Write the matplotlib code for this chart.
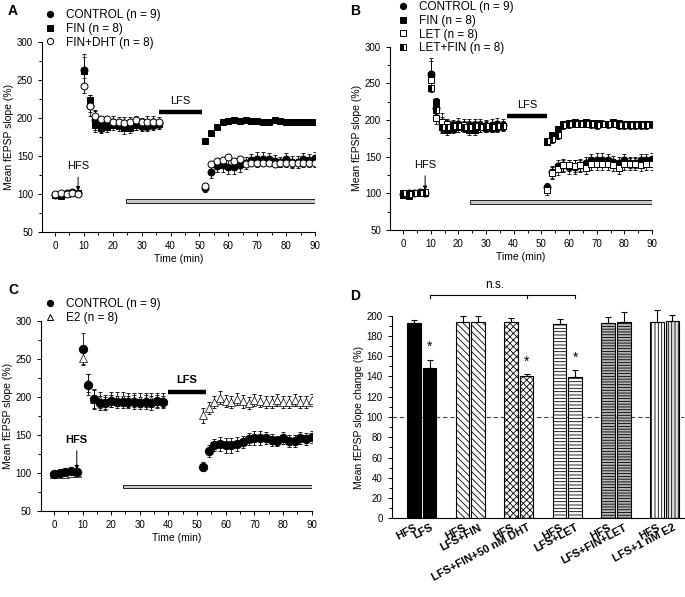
import numpy as np
import matplotlib
matplotlib.use("Agg")
import matplotlib.pyplot as plt
import matplotlib.transforms as mtransforms
from matplotlib.patches import Rectangle
from matplotlib.lines import Line2D
from matplotlib.ticker import MultipleLocator

plt.rcParams['font.family'] = ['Liberation Sans', 'DejaVu Sans']
plt.rcParams['hatch.linewidth'] = 0.6

# time axes (min)
t_pre = np.arange(0, 10, 2)
t_mid = np.arange(10, 38, 2)      # panels A, B
t_mid_c = np.arange(10, 40, 2)    # panel C
t_post = np.arange(52, 92, 2)

# CONTROL (n = 9)
ctrl_pre = [99, 100, 101, 102, 101]
ctrl_pre_err = [2, 3, 3, 3, 3]
ctrl_mid = [263, 216, 197, 191, 192, 195, 193, 193, 193, 193, 192, 193, 194, 193]
ctrl_mid_err = [21, 14, 13, 9, 8, 8, 8, 8, 8, 9, 8, 9, 9, 8]
ctrl_mid_c = [263, 216, 197, 192, 192, 195, 193, 193, 193, 193, 192, 193, 192, 194, 193]
ctrl_mid_c_err = [21, 14, 13, 9, 8, 8, 8, 8, 8, 9, 8, 9, 9, 8, 8]
ctrl_post = [108, 129, 137, 138, 136, 136, 138, 141, 145, 146,
             146, 146, 143, 142, 146, 142, 142, 146, 145, 147]
ctrl_post_err = [6, 8, 8, 9, 10, 10, 9, 8, 8, 9, 9, 8, 8, 7, 8, 8, 8, 8, 8, 8]

# FIN (n = 8)
fin_pre = [98, 97, 100, 101, 101]
fin_pre_err = [3, 3, 3, 3, 3]
fin_mid = [262, 224, 190, 187, 188, 190, 189, 186, 187, 190, 189, 189, 190, 192]
fin_mid_err = [18, 6, 8, 7, 6, 6, 6, 7, 7, 6, 6, 6, 6, 5]
fin_post = [170, 180, 188, 195, 196, 197, 196, 197, 196, 196,
            195, 194, 197, 196, 195, 194, 194, 194, 194, 194]
fin_post_err = [3, 3, 4, 4, 4, 4, 4, 4, 4, 4, 4, 4, 4, 4, 4, 4, 4, 4, 4, 4]

# FIN+DHT (n = 8)
dht_pre = [100, 101, 100, 101, 100]
dht_pre_err = [2, 2, 2, 2, 2]
dht_mid = [242, 216, 203, 198, 198, 195, 194, 193, 195, 197, 195, 194, 195, 194]
dht_mid_err = [10, 8, 6, 5, 4, 4, 4, 4, 4, 4, 4, 4, 4, 4]
dht_post = [110, 139, 143, 145, 148, 143, 146, 139, 141, 140,
            141, 141, 139, 140, 140, 140, 141, 140, 140, 140]
dht_post_err = [5, 4, 4, 4, 4, 4, 4, 4, 4, 4, 4, 4, 4, 4, 4, 4, 4, 4, 4, 4]

# LET (n = 8)
let_pre = [100, 99, 101, 101, 101]
let_pre_err = [3, 3, 3, 3, 3]
let_mid = [255, 203, 197, 195, 193, 193, 193, 192, 193, 192, 192, 191, 191, 192]
let_mid_err = [12, 8, 7, 6, 6, 6, 6, 6, 6, 6, 6, 6, 6, 6]
let_post = [105, 128, 133, 138, 138, 137, 138, 135, 140, 140,
            140, 140, 138, 135, 140, 140, 140, 139, 140, 140]
let_post_err = [7, 8, 8, 8, 8, 8, 8, 8, 8, 8, 8, 8, 8, 8, 8, 8, 8, 8, 8, 8]

# LET+FIN (n = 8)
lf_pre = [100, 99, 100, 101, 102]
lf_pre_err = [3, 3, 3, 3, 3]
lf_mid = [244, 214, 190, 190, 192, 192, 191, 191, 192, 191, 192, 191, 192, 192]
lf_mid_err = [6, 6, 5, 5, 5, 5, 5, 5, 5, 5, 5, 5, 5, 5]
lf_post = [171, 174, 179, 193, 194, 195, 195, 195, 194, 193,
           195, 194, 195, 193, 193, 193, 193, 193, 193, 194]
lf_post_err = [5, 5, 5, 5, 5, 5, 5, 5, 5, 5, 5, 5, 5, 5, 5, 5, 5, 5, 5, 5]

# E2 (n = 8)
e2_pre = [98, 98, 99, 100, 100]
e2_pre_err = [3, 3, 3, 3, 3]
e2_mid = [251, 218, 197, 196, 193, 197, 197, 197, 196, 196, 196, 196, 196, 196, 196]
e2_mid_err = [8, 12, 12, 10, 10, 10, 9, 9, 9, 9, 9, 9, 9, 9, 9]
e2_post = [176, 185, 193, 199, 195, 193, 197, 194, 192, 196,
           195, 193, 193, 196, 193, 193, 196, 193, 193, 196]
e2_post_err = [10, 8, 8, 9, 8, 8, 8, 8, 8, 8, 8, 8, 8, 8, 8, 8, 8, 8, 8, 8]

# panel D
bar_labels = ['HFS', 'LFS', 'HFS', 'LFS+FIN', 'HFS', 'LFS+FIN+50 nM DHT',
              'HFS', 'LFS+LET', 'HFS', 'LFS+FIN+LET', 'HFS', 'LFS+1 nM E2']
bar_vals = [193, 148, 194, 194, 194, 140, 192, 139, 193, 194, 194, 195]
bar_err = [3, 8, 6, 6, 4, 2, 5, 7, 6, 10, 12, 6]
star_bars = [1, 5, 7]

W, H = 685, 597
fig = plt.figure(figsize=(W / 100, H / 100), dpi=100)


def rect(l, r, t, b):
    return [l / W, 1 - b / H, (r - l) / W, (b - t) / H]


def style_time_axis(ax, xleft):
    ax.set_xlim(xleft, 90)
    ax.set_ylim(50, 300)
    for s in ['top', 'right']:
        ax.spines[s].set_visible(False)
    for s in ['left', 'bottom']:
        ax.spines[s].set_linewidth(0.8)
    ax.xaxis.set_major_locator(MultipleLocator(10))
    ax.xaxis.set_minor_locator(MultipleLocator(5))
    ax.yaxis.set_major_locator(MultipleLocator(50))
    ax.yaxis.set_minor_locator(MultipleLocator(25))
    ax.tick_params(which='both', direction='out', labelsize=7, width=0.7)
    ax.tick_params(which='major', length=3)
    ax.tick_params(which='minor', length=2)
    ax.set_xlabel('Time (min)', fontsize=7.5, labelpad=2)
    ax.set_ylabel('Mean fEPSP slope (%)', fontsize=7.5, labelpad=2)


def series(ax, parts, ms, mew=0.7, **kw):
    for t, y, e in parts:
        ax.errorbar(t, y, yerr=e, fmt='none', ecolor='black', elinewidth=0.6,
                    capsize=1.5, capthick=0.6, zorder=2)
        ax.plot(t, y, linestyle='none', markersize=ms, markeredgecolor='black',
                markeredgewidth=mew, zorder=3, **kw)


def annotations(ax, hfs_y, lfs, grey, bold=False):
    w = 'bold' if bold else 'normal'
    ax.annotate('', xy=(8, 104), xytext=(8, hfs_y - 8),
                arrowprops=dict(arrowstyle='-|>', lw=0.7, color='black',
                                mutation_scale=6, shrinkA=0, shrinkB=0))
    ax.text(8, hfs_y, 'HFS', ha='center', va='bottom', fontsize=8, fontweight=w)
    x0, x1, ly = lfs
    ax.plot([x0, x1], [ly, ly], color='black', lw=3.2, solid_capstyle='butt')
    ax.text((x0 + x1) / 2, ly + 8, 'LFS', ha='center', va='bottom',
            fontsize=8, fontweight=w)
    g0, gy = grey
    ax.add_patch(Rectangle((g0, gy - 2.5), 90 - g0, 5, facecolor='#c8c8c8',
                           edgecolor='black', lw=0.6, zorder=1))


def leg(ax, handles, labels, x, y):
    ax.legend(handles, labels, loc='upper left', bbox_to_anchor=(x / W, 1 - y / H),
              bbox_transform=fig.transFigure, frameon=False, fontsize=8.5,
              handlelength=1.0, handletextpad=0.9, labelspacing=0.15,
              borderpad=0, borderaxespad=0)


def mk(marker, fc, ms=4.5, **kw):
    return Line2D([], [], linestyle='none', marker=marker, markersize=ms,
                  markerfacecolor=fc, markeredgecolor='black',
                  markeredgewidth=0.7, **kw)


# ---- A ----
axA = fig.add_axes(rect(42, 315, 41.7, 232))
style_time_axis(axA, -4.5)
series(axA, [(t_pre, ctrl_pre, ctrl_pre_err), (t_mid, ctrl_mid, ctrl_mid_err),
             (t_post, ctrl_post, ctrl_post_err)], 5, marker='o', color='black')
series(axA, [(t_pre, fin_pre, fin_pre_err), (t_mid, fin_mid, fin_mid_err),
             (t_post, fin_post, fin_post_err)], 4.5, marker='s', color='black')
series(axA, [(t_pre, dht_pre, dht_pre_err), (t_mid, dht_mid, dht_mid_err),
             (t_post, dht_post, dht_post_err)], 5, marker='o', color='black',
       markerfacecolor='white')
annotations(axA, 130, (36, 51, 208), (24.5, 90.5))
leg(axA, [mk('o', 'black'), mk('s', 'black', 4), mk('o', 'white')],
    ['CONTROL (n = 9)', 'FIN (n = 8)', 'FIN+DHT (n = 8)'], 44, 9)
fig.text(8 / W, 1 - 11 / H, 'A', fontsize=10, fontweight='bold', va='center')

# ---- B ----
axB = fig.add_axes(rect(390, 652, 46.7, 230))
style_time_axis(axB, -4.7)
series(axB, [(t_pre, ctrl_pre, ctrl_pre_err), (t_mid, ctrl_mid, ctrl_mid_err),
             (t_post, ctrl_post, ctrl_post_err)], 5, marker='o', color='black')
series(axB, [(t_pre, fin_pre, fin_pre_err), (t_mid, fin_mid, fin_mid_err),
             (t_post, fin_post, fin_post_err)], 4.5, marker='s', color='black')
series(axB, [(t_pre, let_pre, let_pre_err), (t_mid, let_mid, let_mid_err),
             (t_post, let_post, let_post_err)], 4.5, marker='s', color='black',
       markerfacecolor='white')
series(axB, [(t_pre, lf_pre, lf_pre_err), (t_mid, lf_mid, lf_mid_err),
             (t_post, lf_post, lf_post_err)], 4.5, marker='s', color='black',
       fillstyle='left', markerfacecoloralt='white')
annotations(axB, 132, (37.5, 52, 205.5), (24.2, 88))
leg(axB, [mk('o', 'black'), mk('s', 'black', 4), mk('s', 'white', 4),
          mk('s', 'black', 4, fillstyle='left', markerfacecoloralt='white')],
    ['CONTROL (n = 9)', 'FIN (n = 8)', 'LET (n = 8)', 'LET+FIN (n = 8)'],
    397, 1)
fig.text(350 / W, 1 - 11 / H, 'B', fontsize=10, fontweight='bold', va='center')

# ---- C ----
axC = fig.add_axes(rect(40.7, 311.7, 321, 510.7))
style_time_axis(axC, -4.6)
series(axC, [(t_pre, e2_pre, e2_pre_err), (t_mid_c, e2_mid, e2_mid_err),
             (t_post, e2_post, e2_post_err)], 6, mew=0.5, marker='^', color='black',
       markerfacecolor='white')
series(axC, [(t_pre, ctrl_pre, ctrl_pre_err), (t_mid_c, ctrl_mid_c, ctrl_mid_c_err),
             (t_post, ctrl_post, ctrl_post_err)], 6, marker='o', color='black')
annotations(axC, 137, (40, 53, 207), (24, 82), bold=True)
leg(axC, [mk('o', 'black'), mk('^', 'white', 5)],
    ['CONTROL (n = 9)', 'E2 (n = 8)'], 44, 298)
fig.text(8 / W, 1 - 290 / H, 'C', fontsize=10, fontweight='bold', va='center')

# ---- D ----
axD = fig.add_axes(rect(391.7, 684, 315.7, 518.3))
group = np.repeat(np.arange(6), 2)
offs = np.tile([-0.16, 0.16], 6)
xpos = group + offs
styles = [
    dict(facecolor='black', hatch=None),
    dict(facecolor='black', hatch=None),
    dict(facecolor='white', hatch='\\\\\\\\\\'),
    dict(facecolor='white', hatch='\\\\\\\\\\'),
    dict(facecolor='white', hatch='xxxxx'),
    dict(facecolor='white', hatch='xxxxx'),
    dict(facecolor='white', hatch='-----'),
    dict(facecolor='white', hatch='-----'),
    dict(facecolor='#b4b4b4', hatch='------'),
    dict(facecolor='#b4b4b4', hatch='------'),
    dict(facecolor='white', hatch='|||||'),
    dict(facecolor='#e0e0e0', hatch='|||||'),
]
axD.axhline(100, color='#444444', lw=0.8, ls=(0, (4, 2.5)), zorder=0)
for i in range(12):
    axD.bar(xpos[i], bar_vals[i], width=0.28, edgecolor='black', lw=0.8,
            zorder=2, **styles[i])
    axD.errorbar(xpos[i], bar_vals[i], yerr=[[0], [bar_err[i]]], fmt='none',
                 ecolor='black', elinewidth=0.8, capsize=2, capthick=0.8,
                 zorder=3, clip_on=False)
for i in star_bars:
    axD.text(xpos[i], bar_vals[i] + bar_err[i] + 6, '*', ha='center',
             va='bottom', fontsize=10)
axD.set_xlim(-0.62, 5.4)
axD.set_ylim(0, 200)
for s in ['top', 'right']:
    axD.spines[s].set_visible(False)
axD.yaxis.set_major_locator(MultipleLocator(20))
axD.yaxis.set_minor_locator(MultipleLocator(10))
axD.tick_params(axis='y', which='both', direction='out', labelsize=7, width=0.7)
axD.tick_params(axis='y', which='major', length=3)
axD.tick_params(axis='y', which='minor', length=2)
axD.set_xticks(xpos)
axD.set_xticklabels(bar_labels, rotation=28, ha='right', rotation_mode='anchor',
                    fontsize=8, fontweight='bold')
shift = mtransforms.ScaledTranslation(3 / 100, 0, fig.dpi_scale_trans)
for lab in axD.get_xticklabels():
    lab.set_transform(lab.get_transform() + shift)
axD.tick_params(axis='x', length=0, pad=3)
axD.set_ylabel('Mean fEPSP slope change (%)', fontsize=7.5, labelpad=2)

# n.s. bracket
by = 220
bx = [xpos[1], xpos[5], xpos[7]]
axD.plot([bx[0], bx[2]], [by, by], color='black', lw=0.8, clip_on=False)
for x in bx:
    axD.plot([x, x], [by, by - 3], color='black', lw=0.8, clip_on=False)
axD.text(1.5, by + 4, 'n.s.', ha='center', va='bottom', fontsize=8.5)
fig.text(350 / W, 1 - 296 / H, 'D', fontsize=10, fontweight='bold', va='center')

fig.savefig('out.png', dpi=100)
